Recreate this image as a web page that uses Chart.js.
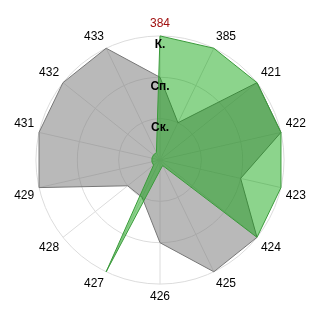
<!DOCTYPE html>
<html><head><meta charset="utf-8">
<script src="https://cdn.jsdelivr.net/npm/chart.js@4/dist/chart.umd.min.js"></script>
<style>html,body{margin:0;padding:0;background:#fff}#wrap{width:320px;height:320px}</style>
</head><body><div id="wrap"><canvas id="c" width="320" height="320"></canvas></div>
<script>
const categories = ['384','385','421','422','423','424','425','426','427','428','429','431','432','433'];
const greenValues = [3,3,3,3,3,3,0.15,0.25,3,0.2,0.2,0.2,0.2,0.2];
const grayValues = [2,1,3,3,2,3,3,2,1,1,3,3,3,3];
const tickLabels = ['', 'Ск.', 'Сп.', 'К.'];

Chart.defaults.font.family = "'Liberation Sans', Arial, sans-serif";
new Chart(document.getElementById('c'), {
  type: 'radar',
  data: {
    labels: categories,
    datasets: [
      {data: greenValues, backgroundColor: 'rgba(0,160,0,0.45)', borderColor: '#3a9a3a', borderWidth: 1, pointRadius: 0, fill: true},
      {data: grayValues, backgroundColor: 'rgba(128,128,128,0.55)', borderColor: '#777777', borderWidth: 1, pointRadius: 0, fill: true}
    ]
  },
  options: {
    responsive: false,
    animation: false,
    devicePixelRatio: 1,
    layout: {padding: 14},
    elements: {line: {tension: 0}},
    plugins: {legend: {display: false}, tooltip: {enabled: false}},
    scales: {
      r: {
        min: 0, max: 3,
        ticks: {
          stepSize: 1,
          z: 1,
          color: '#000',
          showLabelBackdrop: false,
          backdropPadding: 0,
          font: {size: 12, weight: 'bold', lineHeight: 0.75},
          callback: (v) => ['', tickLabels[v] || '']
        },
        grid: {circular: true, color: '#dcdcdc'},
        angleLines: {color: '#dcdcdc'},
        pointLabels: {
          padding: -1,
          font: {size: 12},
          color: (ctx) => ctx.index === 0 ? '#a01010' : '#000'
        }
      }
    }
  }
});
</script></body></html>
